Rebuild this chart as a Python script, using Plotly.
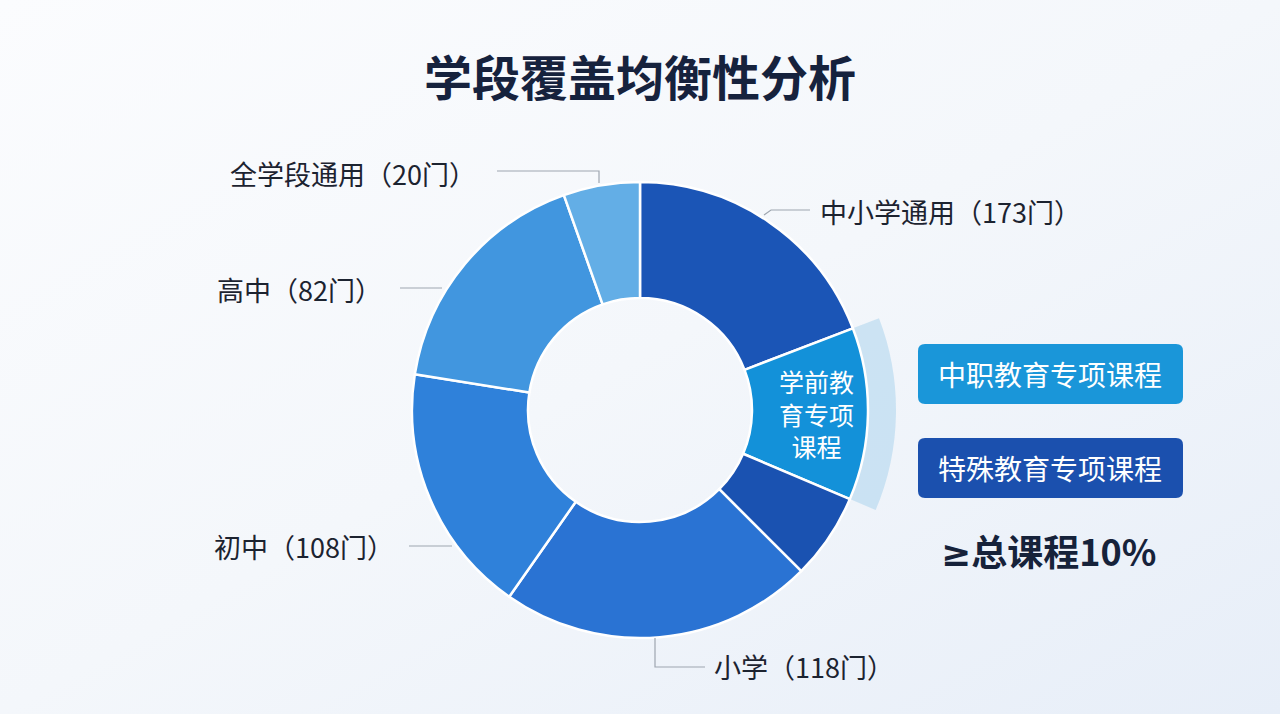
import base64
import math
import plotly.graph_objects as go

# ---------------- data ----------------
segments = ["中小学通用", "学前教育专项课程", "特殊教育专项课程", "小学", "初中", "高中", "全学段通用"]
course_counts = [173, None, None, 118, 108, 82, 20]          # 门 (as printed on labels)
slice_share_deg = [69, 44, 22, 80, 64, 61.5, 19.5]             # slice sizes
segment_colors = ["#1b55b6", "#1391d9", "#1a52b1", "#2a73d3", "#2f81da", "#4196df", "#63aee6"]
highlight_segment = "学前教育专项课程"
side_boxes = ["中职教育专项课程", "特殊教育专项课程"]
side_box_colors = ["#1a96d9", "#1b50ae"]
note_sign = "≥"
note_text = "总课程10%"
title_text = "学段覆盖均衡性分析"

# ---------------- geometry helpers (pixel -> paper) ----------------
W, H = 1280, 714
CX, CY, R_OUT, R_IN, R_HALO = 640, 410, 228, 112, 256
FONT = "Noto Sans CJK SC, Noto Sans, sans-serif"


def px(x):
    return x / W


def py(y):
    return 1 - y / H


def dom(r):
    return dict(x=[px(CX - r), px(CX + r)], y=[py(CY + r), py(CY - r)])


fig = go.Figure()

# halo band behind highlighted slice
halo_colors = ["rgba(0,0,0,0)" if s != highlight_segment else "rgba(175,213,238,0.58)" for s in segments]
fig.add_trace(go.Pie(
    labels=segments, values=slice_share_deg, sort=False, direction="clockwise", rotation=0,
    hole=R_OUT / R_HALO, domain=dom(R_HALO), marker=dict(colors=halo_colors, line=dict(width=0)),
    textinfo="none", hoverinfo="skip", showlegend=False,
))

# main donut
hover_text = [f"{s}（{c}门）" if c is not None else s for s, c in zip(segments, course_counts)]
fig.add_trace(go.Pie(
    labels=segments, values=slice_share_deg, sort=False, direction="clockwise", rotation=0,
    hole=R_IN / R_OUT, domain=dom(R_OUT),
    marker=dict(colors=segment_colors, line=dict(color="white", width=2.5)),
    textinfo="none", hovertext=hover_text, hoverinfo="text", showlegend=False,
))

annotations = []
shapes = []

# title
annotations.append(dict(x=px(640), y=py(75), xref="paper", yref="paper", text=f"<b>{title_text}</b>",
                        showarrow=False, font=dict(family=FONT, size=48, color="#16223d"),
                        xanchor="center", yanchor="middle"))

# text inside highlighted slice (placed at slice centroid computed from data)
total = sum(slice_share_deg)
idx = segments.index(highlight_segment)
start = sum(slice_share_deg[:idx]) / total * 360
mid = math.radians(start + slice_share_deg[idx] / total * 360 / 2)
rm = 177
annotations.append(dict(x=px(CX + rm * math.sin(mid)), y=py(CY - rm * math.cos(mid)), xref="paper", yref="paper",
                        text="学前教<br>育专项<br>课程", showarrow=False, align="center",
                        font=dict(family=FONT, size=25, color="white"), xanchor="center", yanchor="middle"))

# outside labels with leader lines (layout positions)
label_layout = {
    "全学段通用": dict(x=478, y=173, anchor="right", line=[(497, 171), (599, 171), (599, 183)]),
    "高中": dict(x=384, y=289, anchor="right", line=[(400, 288), (442, 288)]),
    "初中": dict(x=396, y=546, anchor="right", line=[(409, 546), (452, 546)]),
    "中小学通用": dict(x=818, y=211, anchor="left", line=[(764, 215), (771, 210), (810, 210)]),
    "小学": dict(x=712, y=666, anchor="left", line=[(655, 638), (655, 667), (705, 667)]),
}
for s, c in zip(segments, course_counts):
    if c is None:
        continue
    L = label_layout[s]
    annotations.append(dict(x=px(L["x"]), y=py(L["y"]), xref="paper", yref="paper",
                            text=f"{s}（{c}门）", showarrow=False, xanchor=L["anchor"], yanchor="middle",
                            font=dict(family=FONT, size=27, color="#1c2330")))
    pts = L["line"]
    path = "M " + " L ".join(f"{px(a)},{py(b)}" for a, b in pts)
    shapes.append(dict(type="path", xref="paper", yref="paper", path=path,
                       line=dict(color="#9ea6b0", width=1.2)))


def rrect(x0, y0, x1, y1, r):
    def p(a, b):
        return f"{px(a)},{py(b)}"
    return (f"M {p(x0 + r, y0)} L {p(x1 - r, y0)} Q {p(x1, y0)} {p(x1, y0 + r)} "
            f"L {p(x1, y1 - r)} Q {p(x1, y1)} {p(x1 - r, y1)} L {p(x0 + r, y1)} "
            f"Q {p(x0, y1)} {p(x0, y1 - r)} L {p(x0, y0 + r)} Q {p(x0, y0)} {p(x0 + r, y0)} Z")


box_tops = [344, 438]
for name, col, top in zip(side_boxes, side_box_colors, box_tops):
    shapes.append(dict(type="path", xref="paper", yref="paper", path=rrect(918, top, 1183, top + 60, 7),
                       fillcolor=col, line=dict(width=0), layer="below"))
    annotations.append(dict(x=px(1050), y=py(top + 30), xref="paper", yref="paper", text=name,
                            showarrow=False, xanchor="center", yanchor="middle",
                            font=dict(family=FONT, size=28, color="white")))

annotations.append(dict(x=px(1048), y=py(550), xref="paper", yref="paper",
                        text=f'<b><span style="font-family:DejaVu Sans">{note_sign}</span>{note_text}</b>',
                        showarrow=False, xanchor="center", yanchor="middle",
                        font=dict(family=FONT, size=36, color="#16223a")))

# background gradient
svg = (f'<svg xmlns="http://www.w3.org/2000/svg" width="{W}" height="{H}" viewBox="0 0 {W} {H}">'
       '<defs><linearGradient id="g" x1="0" y1="0" x2="1" y2="1">'
       '<stop offset="0" stop-color="#fbfcfe"/><stop offset="0.5" stop-color="#f4f7fb"/>'
       '<stop offset="1" stop-color="#e7eef8"/></linearGradient></defs>'
       f'<rect width="{W}" height="{H}" fill="url(#g)"/></svg>')
src = "data:image/svg+xml;base64," + base64.b64encode(svg.encode()).decode()

fig.update_layout(
    width=W, height=H, margin=dict(l=0, r=0, t=0, b=0),
    paper_bgcolor="#f2f5fa", plot_bgcolor="rgba(0,0,0,0)",
    annotations=annotations, shapes=shapes,
    images=[dict(source=src, xref="paper", yref="paper", x=0, y=1, sizex=1, sizey=1,
                 sizing="stretch", layer="below", xanchor="left", yanchor="top")],
    showlegend=False,
)

fig.write_html("out.html")
